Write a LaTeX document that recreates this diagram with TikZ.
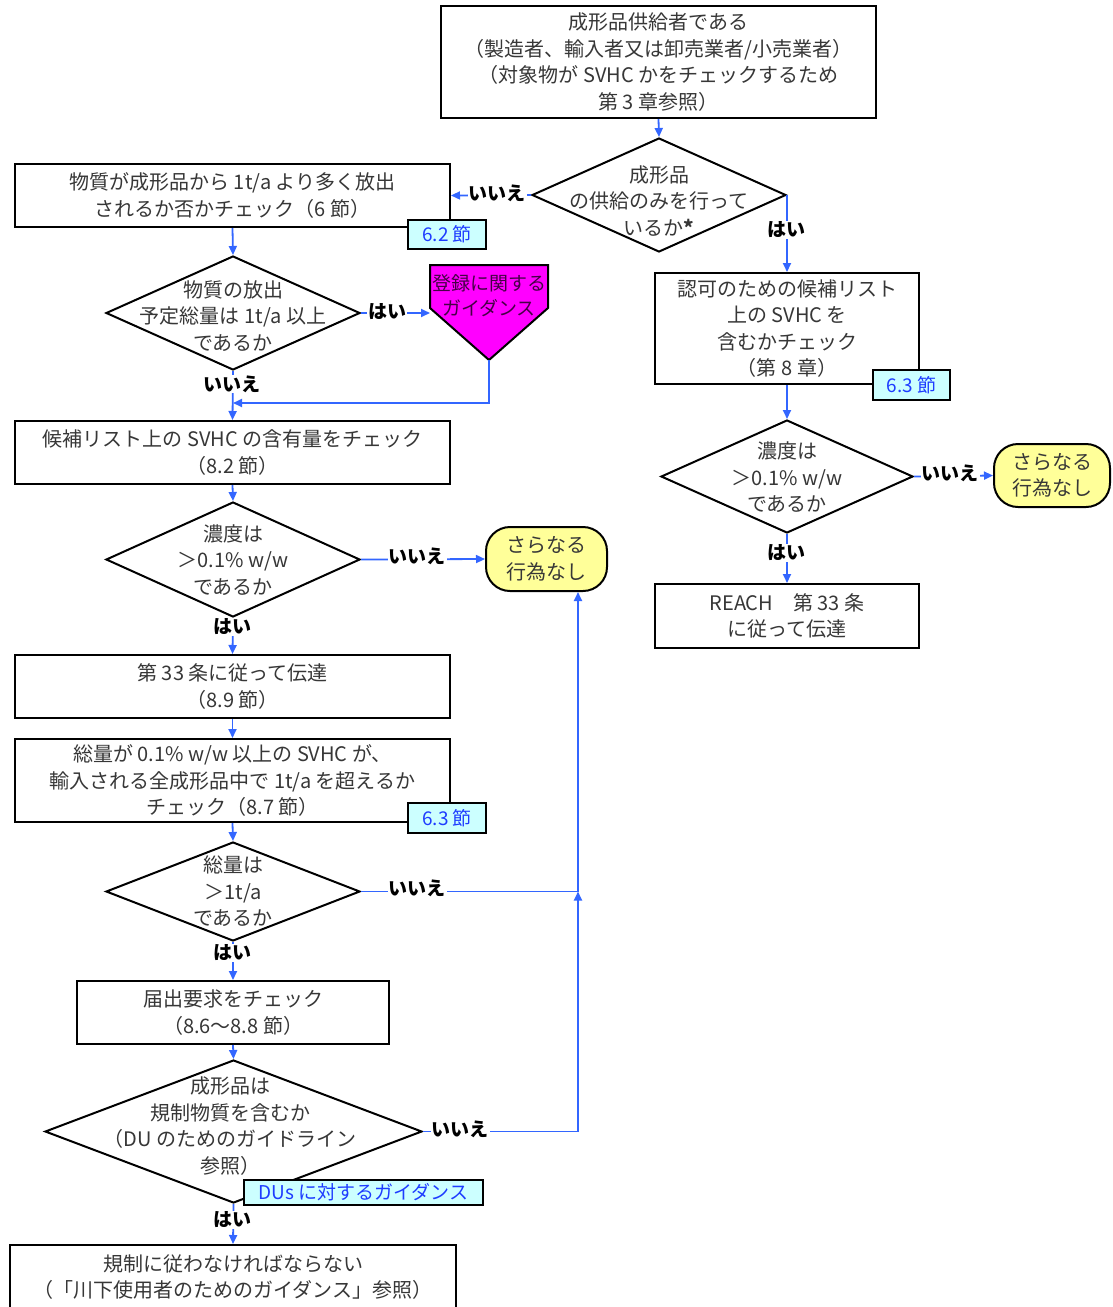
\documentclass[tikz,border=0pt]{standalone}
\usepackage{fontspec}
\setmainfont{Noto Sans CJK JP}
\usetikzlibrary{shapes.geometric,arrows.meta}
\definecolor{arrblue}{RGB}{51,102,255}
\definecolor{tagcyan}{RGB}{204,255,255}
\definecolor{tagblue}{RGB}{30,60,255}
\definecolor{txt}{RGB}{55,55,55}
\definecolor{ovalyel}{RGB}{255,255,153}
\definecolor{magf}{RGB}{255,0,255}
\definecolor{purp}{RGB}{70,0,70}
\begin{document}
\begin{tikzpicture}[x=1pt,y=-1pt,
  box/.style={draw=black, line width=2pt, fill=white, text=txt, align=center, inner sep=0pt, font=\fontsize{20}{26.5}\selectfont},
  dia/.style={diamond, draw=black, line width=2pt, fill=white, inner sep=0pt},
  dtext/.style={align=center, text=txt, inner sep=0pt, font=\fontsize{20}{26.5}\selectfont},
  tag/.style={draw=black, line width=1.6pt, fill=tagcyan, text=tagblue, inner sep=0pt, font=\fontsize{19}{20}\selectfont},
  oval/.style={draw=black, line width=2pt, fill=ovalyel, rounded corners=24pt, text=txt, align=center, inner sep=0pt, font=\fontsize{20}{26.5}\selectfont},
  arr/.style={draw=arrblue, line width=1.8pt, -{Triangle[length=9pt,width=8pt]}},
  lnk/.style={draw=arrblue, line width=1.8pt},
  yn/.style={font=\fontsize{19}{20}\selectfont\bfseries, fill=white, inner sep=1pt, text=black}]
\clip (0,0) rectangle (1112,1307);
\useasboundingbox (0,0) rectangle (1112,1307);
\fill[white] (0,0) rectangle (1112,1307);

% right column
\node[box, minimum width=435, minimum height=112] (top) at (658.5,62) {成形品供給者である\\（製造者、輸入者又は卸売業者/小売業者）\\（対象物が SVHC かをチェックするため\\第 3 章参照）};
\node[dia, minimum width=254, minimum height=114] (d1) at (659,195) {};
\node[dtext] (d1t) at (659,201) {成形品\\の供給のみを行って\\いるか\textbf{*}};
\node[box, minimum width=264, minimum height=111] (r1) at (787,328.5) {認可のための候補リスト\\上の SVHC を\\含むかチェック\\（第 8 章）};
\node[tag, minimum width=77, minimum height=30] (tag63a) at (911.5,385) {6.3 節};
\node[dia, minimum width=252, minimum height=113] (dr) at (787,476.5) {};
\node[dtext] (drt) at (787,477.5) {濃度は\\＞0.1\% w/w\\であるか};
\node[oval, minimum width=116, minimum height=63] (oval1) at (1052,475.5) {さらなる\\行為なし};
\node[box, minimum width=264, minimum height=64] (reach) at (787,616) {REACH\quad 第 33 条\\に従って伝達};

% left column
\node[box, minimum width=435, minimum height=63] (b1) at (232.5,195.5) {物質が成形品から 1t/a より多く放出\\されるか否かチェック（6 節）};
\node[tag, minimum width=78, minimum height=29] (tag62) at (447,234.5) {6.2 節};
\node[dia, minimum width=254, minimum height=114] (d2) at (233,313) {};
\node[dtext] (d2t) at (233,316) {物質の放出\\予定総量は 1t/a 以上\\であるか};
\fill[magf, draw=black, line width=2pt] (430,265) -- (548,265) -- (548,308) -- (489,360) -- (430,308) -- cycle;
\node[align=center, text=purp, inner sep=0pt, font=\fontsize{19}{25}\selectfont] (guide) at (489,295.5) {登録に関する\\ガイダンス};
\coordinate (gl) at (430,313);
\coordinate (gtip) at (489,360);
\coordinate (j1) at (233,403);
\node[box, minimum width=435, minimum height=63] (b2) at (232.5,452.5) {候補リスト上の SVHC の含有量をチェック\\（8.2 節）};
\node[dia, minimum width=254, minimum height=115] (d3) at (233,559.5) {};
\node[dtext] (d3t) at (233,560) {濃度は\\＞0.1\% w/w\\であるか};
\node[oval, minimum width=121, minimum height=64] (oval2) at (546.5,559) {さらなる\\行為なし};
\node[box, minimum width=435, minimum height=63] (b3) at (232.5,686.5) {第 33 条に従って伝達\\（8.9 節）};
\node[box, minimum width=435, minimum height=83] (b4) at (232.5,780.5) {総量が 0.1\% w/w 以上の SVHC が、\\輸入される全成形品中で 1t/a を超えるか\\チェック（8.7 節）};
\node[tag, minimum width=78, minimum height=30] (tag63b) at (447,818) {6.3 節};
\node[dia, minimum width=254, minimum height=99] (d4) at (233,891.5) {};
\node[dtext] (d4t) at (233,891.5) {総量は\\＞1t/a\\であるか};
\node[box, minimum width=312, minimum height=63] (b5) at (233,1012.5) {届出要求をチェック\\（8.6～8.8 節）};
\node[dia, minimum width=377, minimum height=143] (d5) at (233.5,1131.5) {};
\node[dtext] (d5t) at (230,1126) {成形品は\\規制物質を含むか\\（DU のためのガイドライン\\参照）};
\node[tag, minimum width=239, minimum height=25] (tagdu) at (363.5,1192.5) {DUs に対するガイダンス};
\node[box, minimum width=446, minimum height=64] (final) at (233,1277) {規制に従わなければならない\\（「川下使用者のためのガイダンス」参照）};
\coordinate (j2) at (578,891.5);
\coordinate (j3) at (578,1131.5);

% connectors
\draw[arr] (top.south) -- (d1.north);
\draw[arr] (d1.west) -- (b1.east);
\draw[arr] (d1.east) -- (d1.east |- r1.north);
\draw[arr] (r1.south) -- (dr.north);
\draw[arr] (dr.east) -- (oval1.west);
\draw[arr] (dr.south) -- (reach.north);
\draw[arr] (b1.south) -- (d2.north);
\draw[arr] (d2.east) -- (gl);
\draw[arr] (gtip) |- (j1);
\draw[arr] (d2.south) -- (b2.north);
\draw[arr] (b2.south) -- (d3.north);
\draw[arr] (d3.east) -- (oval2.west);
\draw[arr] (d3.south) -- (b3.north);
\draw[arr] (b3.south) -- (b4.north);
\draw[arr] (b4.south) -- (d4.north);
\draw[lnk] (d4.east) -- (j2);
\draw[arr] (j2) -- (j2 |- oval2.south);
\draw[arr] (d4.south) -- (b5.north);
\draw[arr] (b5.south) -- (d5.north);
\draw[lnk] (d5.east) -- (j3);
\draw[arr] (j3) -- (j2);
\draw[arr] (d5.south) -- (final.north);

% yes / no labels
\node[yn] (n1) at (497,193) {いいえ};
\node[yn] (y1) at (786,230) {はい};
\node[yn] (n2) at (950,473) {いいえ};
\node[yn] (y2) at (786,553) {はい};
\node[yn] (y3) at (387,312) {はい};
\node[yn] (n3) at (232,384) {いいえ};
\node[yn] (n4) at (417,556) {いいえ};
\node[yn] (y4) at (232,627) {はい};
\node[yn] (n5) at (417,888) {いいえ};
\node[yn] (y5) at (232,953) {はい};
\node[yn] (n6) at (460,1129) {いいえ};
\node[yn] (y6) at (232,1220) {はい};
\end{tikzpicture}
\end{document}
